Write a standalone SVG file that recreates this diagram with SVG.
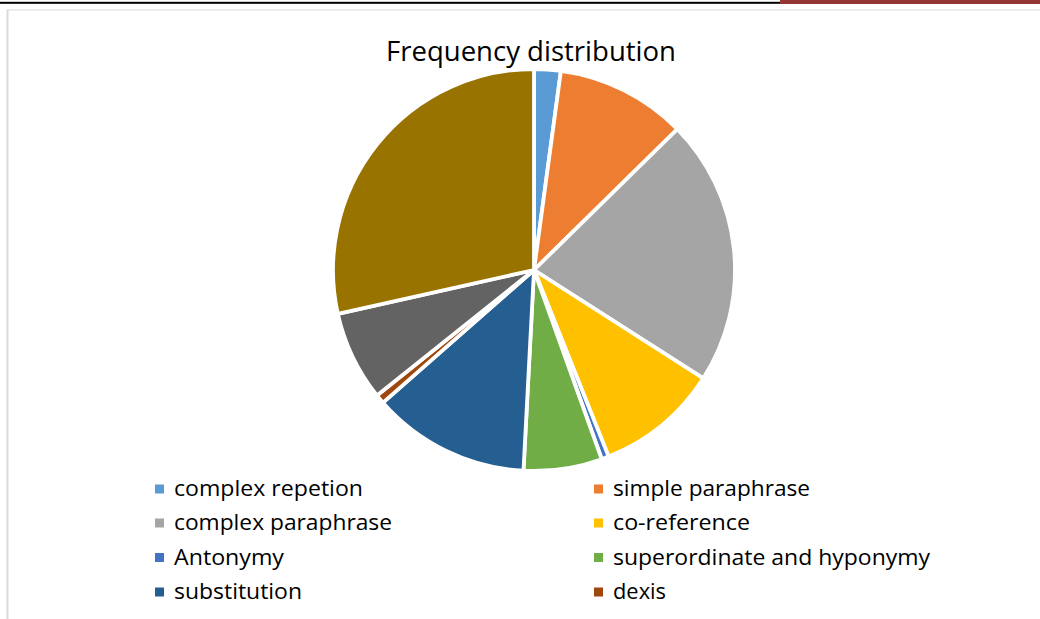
<svg xmlns="http://www.w3.org/2000/svg" width="1040" height="619" viewBox="0 0 1040 619">
  <style>
    .slice { stroke: #ffffff; stroke-width: 3.8; stroke-linejoin: round; }
    .title { font-family: "Open Sans", "Liberation Sans", sans-serif; font-size: 27.5px; fill: #000000; }
    .leg { font-family: "Open Sans", "Liberation Sans", sans-serif; font-size: 22.5px; fill: #000000; }
    .frame { fill: none; stroke: #d9d9d9; }
  </style>
  <rect x="0" y="0" width="1040" height="619" fill="#ffffff"/>
  <g id="page-header">
    <rect x="0" y="1.8" width="780" height="2" fill="#000000"/>
    <rect x="780" y="0" width="260" height="4" fill="#943634"/>
  </g>
  <g id="chart-frame">
    <line class="frame" x1="7.5" y1="9.5" x2="7.5" y2="619" stroke-width="2"/>
    <line class="frame" x1="7" y1="10" x2="1040" y2="10" stroke-width="1.2"/>
  </g>
  <text id="title" class="title" x="386" y="61" textLength="290" lengthAdjust="spacingAndGlyphs">Frequency distribution</text>
  <g id="pie">
    <path id="slice-complex-repetion" class="slice" fill="#5B9BD5" d="M534 270 L534 69 A201 201 0 0 1 560.93 70.81 Z"/>
    <path id="slice-simple-paraphrase" class="slice" fill="#ED7D31" d="M534 270 L560.93 70.81 A201 201 0 0 1 677.37 129.12 Z"/>
    <path id="slice-complex-paraphrase" class="slice" fill="#A5A5A5" d="M534 270 L677.37 129.12 A201 201 0 0 1 703.34 378.30 Z"/>
    <path id="slice-co-reference" class="slice" fill="#FFC000" d="M534 270 L703.34 378.30 A201 201 0 0 1 608.65 456.63 Z"/>
    <path id="slice-antonymy" class="slice" fill="#4472C4" d="M534 270 L608.65 456.63 A201 201 0 0 1 601.76 459.24 Z"/>
    <path id="slice-superordinate" class="slice" fill="#70AD47" d="M534 270 L601.76 459.24 A201 201 0 0 1 523.48 470.72 Z"/>
    <path id="slice-substitution" class="slice" fill="#255E91" d="M534 270 L523.48 470.72 A201 201 0 0 1 382.99 402.66 Z"/>
    <path id="slice-dexis" class="slice" fill="#9E480E" d="M534 270 L382.99 402.66 A201 201 0 0 1 376.92 395.40 Z"/>
    <path id="slice-9" class="slice" fill="#636363" d="M534 270 L376.92 395.40 A201 201 0 0 1 337.84 313.84 Z"/>
    <path id="slice-10" class="slice" fill="#997300" d="M534 270 L337.84 313.84 A201 201 0 0 1 534 69 Z"/>
  </g>
  <g id="legend">
    <g id="leg-complex-repetion">
      <rect x="155" y="484.5" width="9" height="9" fill="#5B9BD5"/>
      <text class="leg" x="174" y="496" textLength="189" lengthAdjust="spacingAndGlyphs">complex repetion</text>
    </g>
    <g id="leg-simple-paraphrase">
      <rect x="594" y="484.5" width="9" height="9" fill="#ED7D31"/>
      <text class="leg" x="613" y="496" textLength="197" lengthAdjust="spacingAndGlyphs">simple paraphrase</text>
    </g>
    <g id="leg-complex-paraphrase">
      <rect x="155" y="518.5" width="9" height="9" fill="#A5A5A5"/>
      <text class="leg" x="174" y="530" textLength="218" lengthAdjust="spacingAndGlyphs">complex paraphrase</text>
    </g>
    <g id="leg-co-reference">
      <rect x="594" y="518.5" width="9" height="9" fill="#FFC000"/>
      <text class="leg" x="613" y="530" textLength="137" lengthAdjust="spacingAndGlyphs">co-reference</text>
    </g>
    <g id="leg-antonymy">
      <rect x="155" y="553" width="9" height="9" fill="#4472C4"/>
      <text class="leg" x="174" y="564.5" textLength="110" lengthAdjust="spacingAndGlyphs">Antonymy</text>
    </g>
    <g id="leg-superordinate">
      <rect x="594" y="553" width="9" height="9" fill="#70AD47"/>
      <text class="leg" x="613" y="564.5" textLength="317" lengthAdjust="spacingAndGlyphs">superordinate and hyponymy</text>
    </g>
    <g id="leg-substitution">
      <rect x="155" y="587.5" width="9" height="9" fill="#255E91"/>
      <text class="leg" x="174" y="599" textLength="128" lengthAdjust="spacingAndGlyphs">substitution</text>
    </g>
    <g id="leg-dexis">
      <rect x="594" y="587.5" width="9" height="9" fill="#9E480E"/>
      <text class="leg" x="613" y="599" textLength="53" lengthAdjust="spacingAndGlyphs">dexis</text>
    </g>
  </g>
</svg>
